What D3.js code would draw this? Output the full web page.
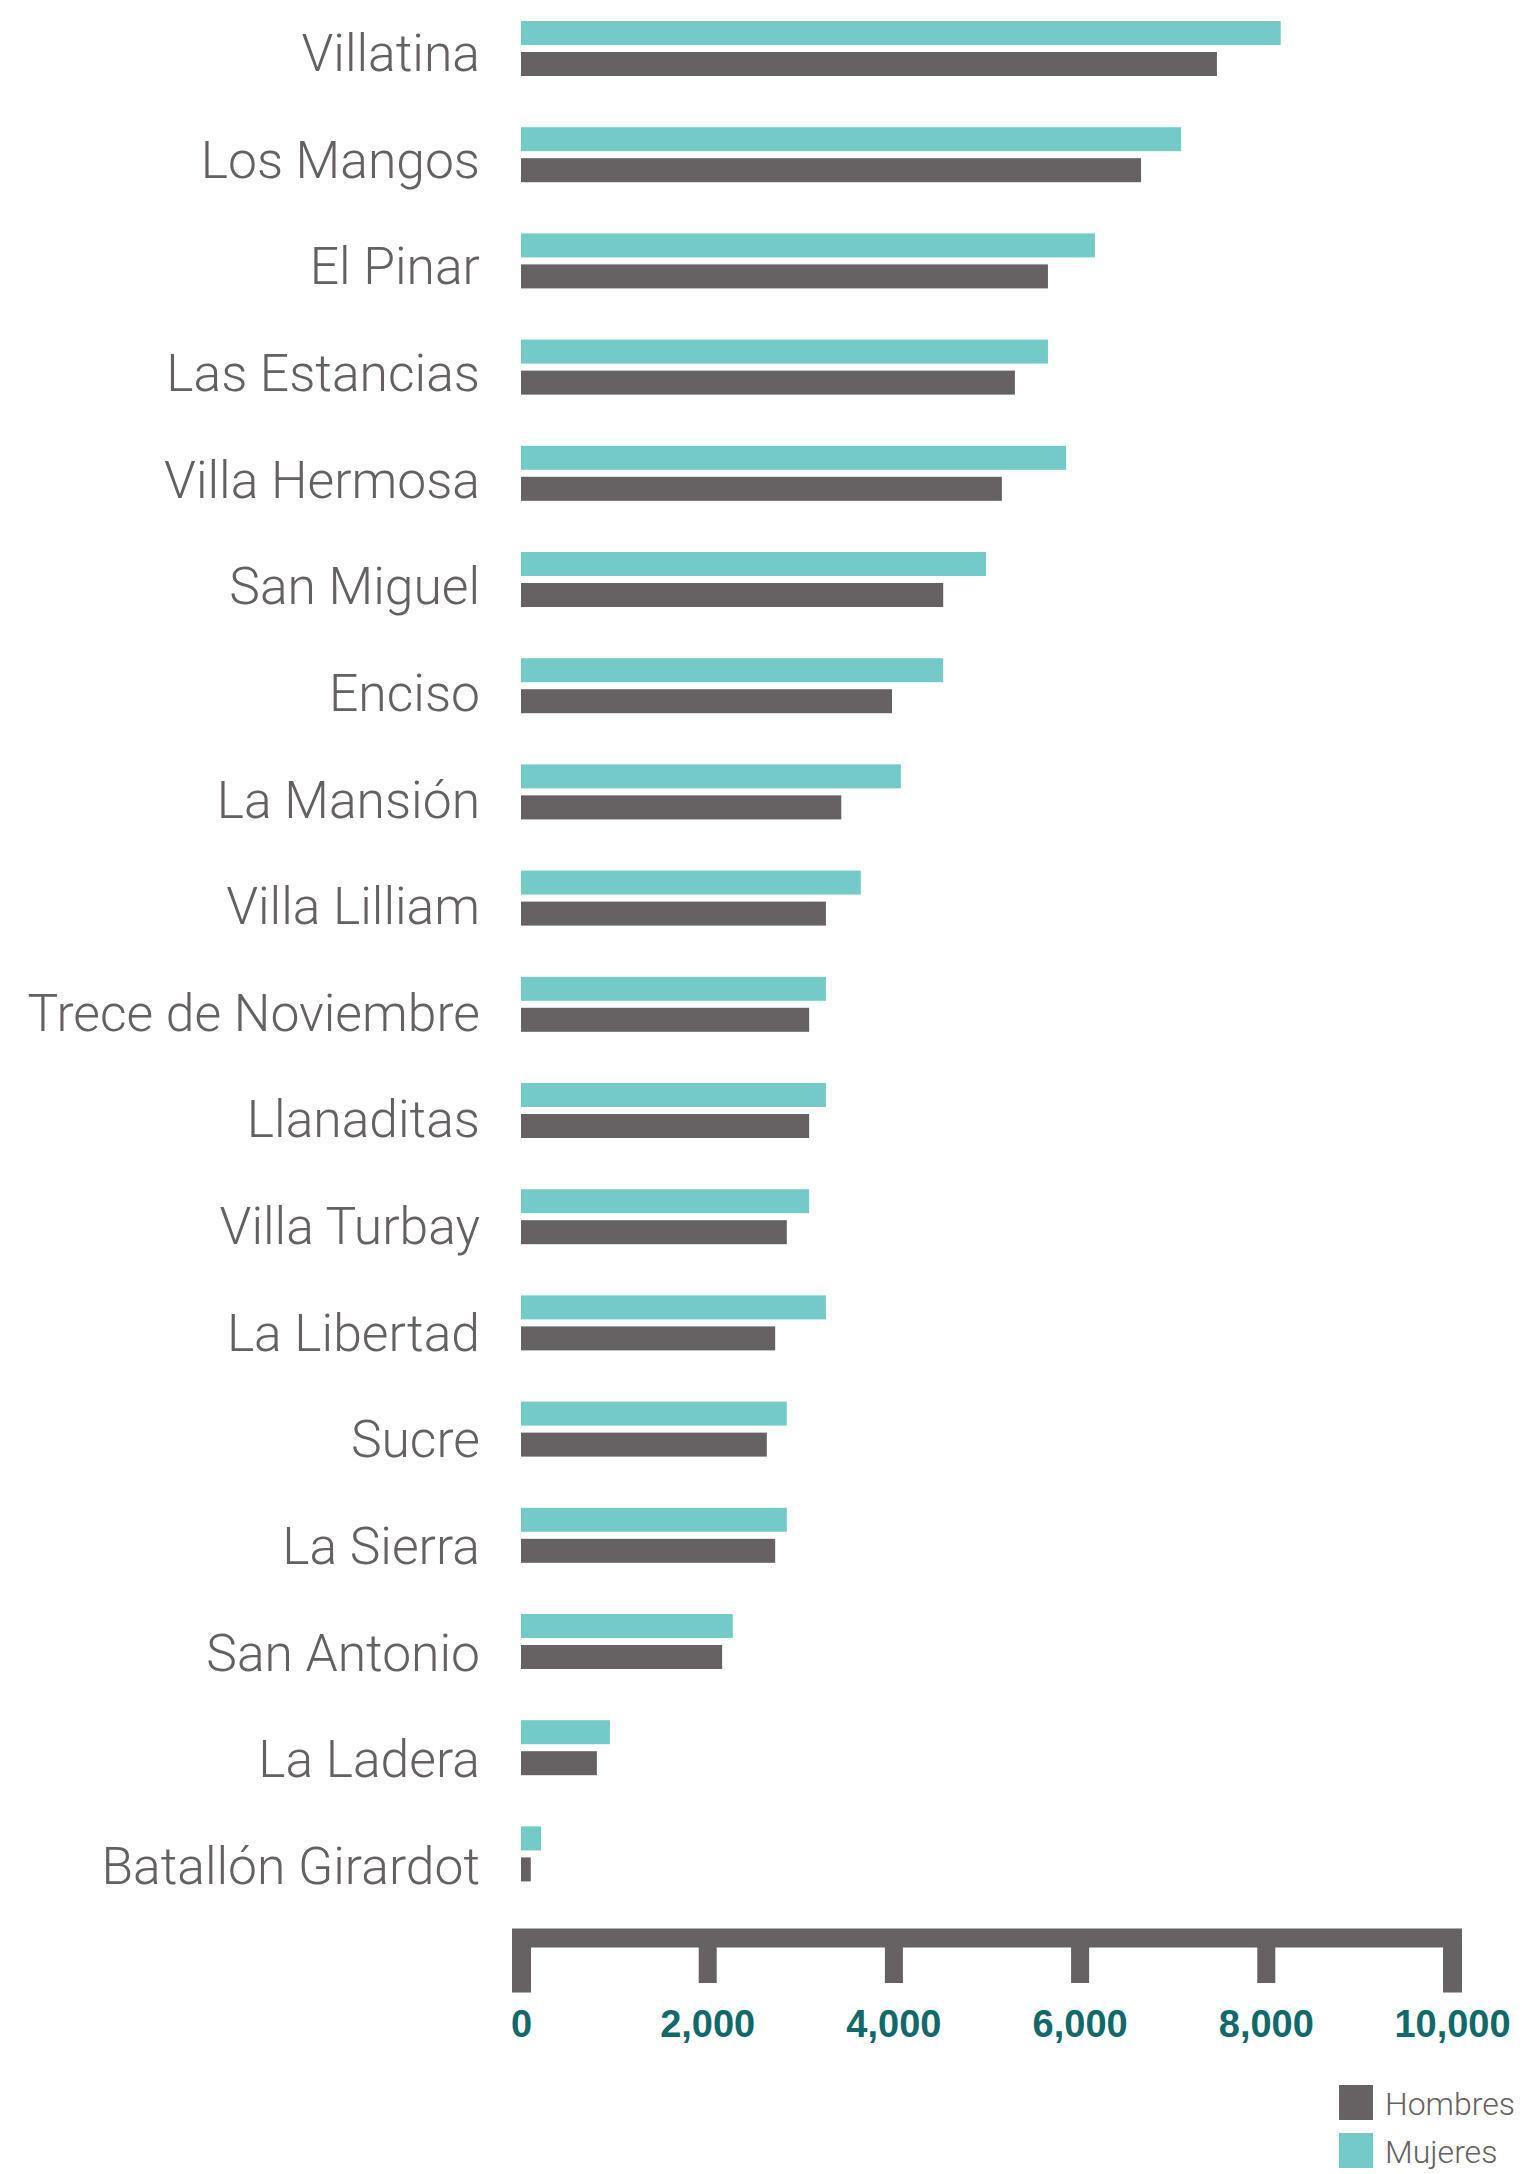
<!DOCTYPE html>
<html>
<head>
	<meta charset="UTF-8">
	<title>Hombres y Mujeres por barrio</title>
	<style>
		body { margin: 0; background: #fff; }
		.label { font-family: "Roboto", "Liberation Sans", sans-serif; font-weight: 300; fill: #656061; }
		.tick text { font-family: "Liberation Sans", sans-serif; font-weight: bold; fill: #11696a; }
		.legend text { font-family: "Roboto", "Liberation Sans", sans-serif; font-weight: 300; fill: #656061; }
	</style>
</head>
<body>
<script src="https://cdnjs.cloudflare.com/ajax/libs/d3/7.8.5/d3.min.js"></script>
<script>

var barrios = ["Villatina", "Los Mangos", "El Pinar", "Las Estancias", "Villa Hermosa",
	"San Miguel", "Enciso", "La Mansión", "Villa Lilliam", "Trece de Noviembre",
	"Llanaditas", "Villa Turbay", "La Libertad", "Sucre", "La Sierra",
	"San Antonio", "La Ladera", "Batallón Girardot"];

var mujeres = [8160, 7090, 6165, 5660, 5855, 4995, 4535, 4080, 3650, 3275,
	3275, 3095, 3275, 2855, 2855, 2275, 955, 215];

var hombres = [7475, 6660, 5660, 5305, 5165, 4535, 3985, 3440, 3275, 3095,
	3095, 2855, 2730, 2640, 2730, 2160, 815, 105];

var series = ["Mujeres", "Hombres"];
var tickValues = [0, 2000, 4000, 6000, 8000, 10000];

var width = 1522;
var height = 2174;

var color = d3.scaleOrdinal()
	.domain(["Hombres", "Mujeres"])
	.range(["#666162", "#73cac6"]);

var x = d3.scaleLinear()
	.domain([0, 10000])
	.range([521, 1452]);

var step = 106.2;
var y = d3.scaleBand()
	.domain(barrios)
	.range([21, 21 + step * barrios.length]);

var ySub = d3.scaleBand()
	.domain(series)
	.range([0, 55])
	.paddingInner(0.2258);

// las etiquetas van un poco mas espaciadas que las barras
var yLabel = d3.scalePoint()
	.domain(barrios)
	.range([71, 1884]);

var svg = d3.select("body").append("svg")
	.attr("width", width)
	.attr("height", height);

var rows = barrios.map(function(b, i){
	return {name: b, values: [
		{key: "Mujeres", value: mujeres[i]},
		{key: "Hombres", value: hombres[i]}
	]};
});

var row = svg.selectAll("g.row")
	.data(rows)
	.enter().append("g")
	.attr("class", "row")
	.attr("transform", function(d){ return "translate(0," + y(d.name) + ")"; });

row.selectAll("rect")
	.data(function(d){ return d.values; })
	.enter().append("rect")
	.attr("x", x(0))
	.attr("y", function(d){ return ySub(d.key); })
	.attr("width", function(d){ return x(d.value) - x(0); })
	.attr("height", ySub.bandwidth())
	.attr("fill", function(d){ return color(d.key); });

svg.selectAll("text.label")
	.data(barrios)
	.enter().append("text")
	.attr("class", "label")
	.attr("x", 480)
	.attr("y", function(d){ return yLabel(d); })
	.attr("text-anchor", "end")
	.style("font-size", "51.6px")
	.text(function(d){ return d; });

// eje grueso con marcas anchas
var axis = d3.axisBottom(x)
	.tickValues(tickValues)
	.tickFormat(d3.format(","))
	.tickSizeOuter(0)
	.tickSize(45.5)
	.tickPadding(27);

var gAxis = svg.append("g")
	.attr("class", "axis")
	.attr("transform", "translate(0,1937.5)")
	.call(axis);

gAxis.select(".domain")
	.attr("stroke", "#666162")
	.attr("stroke-width", 19)
	.attr("stroke-linecap", "square");

gAxis.selectAll(".tick line")
	.attr("stroke", "#666162")
	.attr("stroke-width", 18);

gAxis.selectAll(".tick text")
	.style("font-size", "38px");

var legend = svg.append("g")
	.attr("class", "legend")
	.attr("transform", "translate(1339,2085)");

var item = legend.selectAll("g")
	.data(["Hombres", "Mujeres"])
	.enter().append("g")
	.attr("transform", function(d, i){ return "translate(0," + (i * 48) + ")"; });

item.append("rect")
	.attr("width", 34)
	.attr("height", 35)
	.attr("fill", function(d){ return color(d); });

item.append("text")
	.attr("x", 46)
	.attr("y", 30)
	.style("font-size", "32px")
	.text(function(d){ return d; });

</script>
</body>
</html>
